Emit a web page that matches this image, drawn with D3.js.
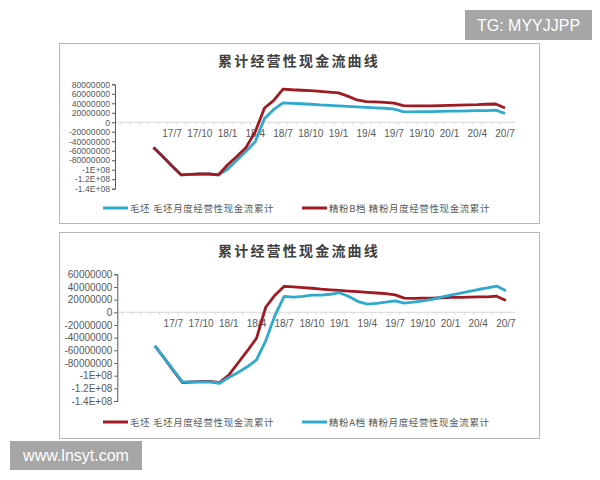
<!DOCTYPE html>
<html><head><meta charset="utf-8">
<script src="https://cdn.jsdelivr.net/npm/d3@7/dist/d3.min.js"></script>
<style>body{margin:0;background:#fff;}svg{display:block;font-family:"Liberation Sans",Arial,sans-serif;}</style>
</head><body>
<svg id="c" width="600" height="480"></svg>
<script>
const months = ["17/1","17/2","17/3","17/4","17/5","17/6","17/7","17/8","17/9","17/10","17/11","17/12",
"18/1","18/2","18/3","18/4","18/5","18/6","18/7","18/8","18/9","18/10","18/11","18/12",
"19/1","19/2","19/3","19/4","19/5","19/6","19/7","19/8","19/9","19/10","19/11","19/12",
"20/1","20/2","20/3","20/4","20/5","20/6","20/7"];
// values in millions
const maopi = [null,null,null,null,-53,-72,-92,-111,-110,-109,-109,-111,-99,-80,-61,-41,8,27,41,40,39,38,36.5,35.5,34.5,33.5,32.5,31.5,30.5,29.5,27.5,22.5,22,22.5,22.5,23,23.5,23.5,24,24.5,24.5,25.5,18.5];
const jingfenB = [null,null,null,null,-53,-72,-92,-111,-110,-109,-109,-111,-90,-72,-53,-20,30,46,70,68.5,67.5,66.5,65,63.5,62,55,47,43.5,43,42,40.5,35,34.5,34.5,34.5,35,35.5,36,36.5,37,38,38.5,30];
const jingfenA = [null,null,null,null,-53,-72,-91,-110,-110,-110,-110,-112,-103,-95,-86,-75,-45,-5,25,24,25,27,27,28.5,31,25,17,13,14,16,18,14.5,16,18,20.5,24,27,30,33,36,38.5,41.5,34];
const topTicks = [80,60,40,20,0,-20,-40,-60,-80,-100,-120,-140];
const topTickLabels = ["80000000","60000000","40000000","20000000","0","-20000000","-40000000","-60000000","-80000000","-1E+08","-1.2E+08","-1.4E+08"];
const botTicks = [60,40,20,0,-20,-40,-60,-80,-100,-120,-140];
const botTickLabels = ["60000000","40000000","20000000","0","-20000000","-40000000","-60000000","-80000000","-1E+08","-1.2E+08","-1.4E+08"];
const title = "累计经营性现金流曲线";
const RED = "#a01a22", BLUE = "#2eaacf";

const svg = d3.select("#c");
const cjk = '"Noto Sans CJK SC","Noto Sans",sans-serif';

function chart(cfg){
  const g = svg.append("g");
  g.append("rect").attr("x",cfg.box[0]+0.5).attr("y",cfg.box[1]+0.5).attr("width",cfg.box[2]).attr("height",cfg.box[3])
    .attr("fill","#fff").attr("stroke","#b8b8b8").attr("stroke-width",1);
  g.append("text").attr("x",299).attr("y",cfg.titleY).attr("text-anchor","middle")
    .attr("font-family",cjk).attr("font-weight","bold").attr("font-size",14).attr("letter-spacing",2.2)
    .attr("fill","#404040").text(title);
  const x = d3.scalePoint().domain(months).range(cfg.xr);
  const y = d3.scaleLinear().domain([-140,cfg.ymax]).range(cfg.yr);
  g.append("line").attr("x1",cfg.axisX).attr("x2",515).attr("y1",y(0)).attr("y2",y(0)).attr("stroke","#d9d9d9").attr("stroke-width",1);
  const step = x.step();
  g.selectAll(".mt").data(months).join("line")
    .attr("x1",d=>x(d)-step/2).attr("x2",d=>x(d)-step/2).attr("y1",y(0)).attr("y2",y(0)+2.5)
    .attr("stroke","#d9d9d9");
  g.selectAll(".xl").data(months.filter((m,i)=>i>=6 && (i-6)%3===0)).join("text")
    .attr("x",d=>x(d)).attr("y",y(0)+15).attr("text-anchor","middle").attr("font-size",10).attr("fill","#595959").text(d=>d);
  const ya = d3.axisLeft(y).tickValues(cfg.ticks).tickSize(3).tickFormat((d,i)=>cfg.labels[i]);
  const ag = g.append("g").attr("transform",`translate(${cfg.axisX},0)`).call(ya);
  ag.select(".domain").attr("stroke","#595959");
  ag.selectAll(".tick line").attr("stroke","#595959");
  ag.selectAll(".tick text").attr("font-size",cfg.fs).attr("fill","#595959").attr("font-family",'"Liberation Sans",Arial,sans-serif').attr("x",-5);
  const line = d3.line().defined(d=>d[1]!=null).x(d=>x(d[0])).y(d=>y(d[1]));
  cfg.series.forEach(s=>{
    g.append("path").datum(months.map((m,i)=>[m,s.v[i]])).attr("d",line)
      .attr("fill","none").attr("stroke",s.c).attr("stroke-width",2.8).attr("stroke-linejoin","round");
  });
  cfg.series.forEach((s,k)=>{
    const lx = k===0?103:302;
    g.append("line").attr("x1",lx).attr("x2",lx+25).attr("y1",cfg.legY).attr("y2",cfg.legY).attr("stroke",s.c).attr("stroke-width",3);
    g.append("text").attr("x",lx+27).attr("y",cfg.legY+3.5).attr("font-family",cjk).attr("font-size",9.5)
      .attr("fill","#595959").attr("letter-spacing",0.6).text(s.name);
  });
}

chart({box:[59,43,480,180], titleY:66, xr:[116.5,505], yr:[188.7,84.3], ymax:80, axisX:115, fs:8.6,
  ticks:topTicks, labels:topTickLabels, legY:208,
  series:[{name:"毛坯 毛坯月度经营性现金流累计",v:maopi,c:BLUE},{name:"精粉B档 精粉月度经营性现金流累计",v:jingfenB,c:RED}]});
chart({box:[59,232,480,206], titleY:256, xr:[117.9,505.9], yr:[401,274.3], ymax:60, axisX:117.3, fs:10,
  ticks:botTicks, labels:botTickLabels, legY:422,
  series:[{name:"毛坯 毛坯月度经营性现金流累计",v:maopi,c:RED},{name:"精粉A档 精粉月度经营性现金流累计",v:jingfenA,c:BLUE}]});

svg.append("rect").attr("x",465).attr("y",10).attr("width",127).attr("height",30).attr("fill","#a6a6a6");
svg.append("text").attr("x",528.5).attr("y",31).attr("text-anchor","middle").attr("font-size",16).attr("fill","#fff").text("TG: MYYJJPP");
svg.append("rect").attr("x",10).attr("y",441).attr("width",132).attr("height",29).attr("fill","#a6a6a6");
svg.append("text").attr("x",76).attr("y",461).attr("text-anchor","middle").attr("font-size",16).attr("fill","#fff").text("www.lnsyt.com");
</script>
</body></html>
